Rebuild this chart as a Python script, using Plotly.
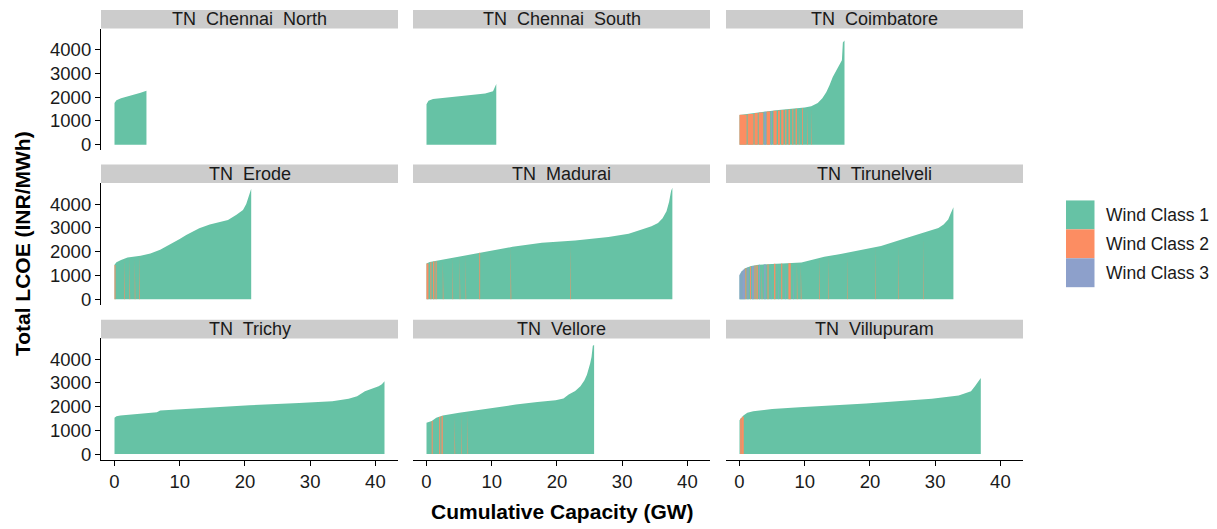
import plotly.graph_objects as go

# ---------------- data ----------------
DISTRICTS = ["TN\u00a0 Chennai\u00a0 North", "TN\u00a0 Chennai\u00a0 South", "TN\u00a0 Coimbatore",
             "TN\u00a0 Erode", "TN\u00a0 Madurai", "TN\u00a0 Tirunelveli",
             "TN\u00a0 Trichy", "TN\u00a0 Vellore", "TN\u00a0 Villupuram"]
CLASS_NAMES = ["Wind Class 1", "Wind Class 2", "Wind Class 3"]
CLASS_COLORS = ["#66C2A5", "#FC8D62", "#8DA0CB"]
Y_TICKS = [0, 1000, 2000, 3000, 4000]
X_TICKS = [0, 10, 20, 30, 40]

# supply curves: cumulative capacity (GW) vs total LCOE (INR/MWh)
CHENNAI_N_CAP = [0, 0.3, 1, 2, 3, 4, 4.9]
CHENNAI_N_LCOE = [1750, 1870, 1950, 2030, 2080, 2180, 2270]

CHENNAI_S_CAP = [0, 0.3, 1, 3, 5, 7, 9, 10.2, 10.5, 10.7]
CHENNAI_S_LCOE = [1700, 1850, 1920, 1980, 2060, 2110, 2150, 2250, 2400, 2550]

COIMBATORE_CAP = [0, 2, 4, 6, 8, 10, 11, 12, 12.7, 13.3, 13.8, 14.3, 14.8, 15.3, 15.7, 15.85, 16.1]
COIMBATORE_LCOE = [1250, 1330, 1400, 1460, 1510, 1560, 1620, 1750, 1950, 2200, 2500, 2850, 3100, 3350, 3550, 4300, 4380]

ERODE_CAP = [0, 0.3, 1, 2, 4, 5.5, 7, 8, 9, 10, 11, 11.6, 12.3, 13, 14.6, 16, 17.4, 18.7, 19.7, 20.2, 20.5, 20.8, 20.96]
ERODE_LCOE = [1450, 1550, 1650, 1750, 1830, 1920, 2080, 2220, 2380, 2530, 2700, 2790, 2900, 2980, 3140, 3230, 3330, 3550, 3750, 4000, 4250, 4500, 4640]

MADURAI_CAP = [0, 0.5, 2.8, 6, 9.6, 13.2, 17.7, 22.8, 27.9, 31, 33, 34.5, 35.5, 36.2, 36.8, 37.2, 37.5, 37.7]
MADURAI_LCOE = [1500, 1560, 1680, 1850, 2030, 2200, 2370, 2470, 2610, 2750, 2930, 3070, 3200, 3400, 3700, 4100, 4550, 4680]

TIRUNELVELI_CAP = [0, 0.3, 0.87, 1.8, 2.9, 5, 8, 9.5, 11, 13, 15.5, 18.1, 21.7, 25.7, 29.3, 30.5, 31.3, 32, 32.3, 32.6, 32.8]
TIRUNELVELI_LCOE = [1000, 1150, 1300, 1400, 1450, 1490, 1520, 1540, 1640, 1780, 1900, 2030, 2240, 2580, 2890, 2990, 3140, 3350, 3550, 3780, 3870]

TRICHY_CAP = [0, 0.3, 0.9, 3, 6.5, 7, 13.1, 20.7, 28.3, 33.4, 35.9, 37.2, 38.4, 40.5, 41, 41.4]
TRICHY_LCOE = [1530, 1600, 1630, 1680, 1770, 1840, 1950, 2060, 2160, 2230, 2330, 2440, 2650, 2860, 2950, 3070]

VELLORE_CAP = [0, 0.8, 1.5, 2.5, 5, 10.1, 13.7, 17, 19.8, 21, 21.8, 22.8, 23.6, 24.2, 24.6, 25.1, 25.3, 25.5, 25.7]
VELLORE_LCOE = [1320, 1400, 1530, 1630, 1740, 1950, 2090, 2200, 2270, 2350, 2510, 2660, 2860, 3100, 3350, 3830, 4100, 4570, 4600]

VILLUPURAM_CAP = [0, 0.3, 0.6, 1.2, 2.1, 5, 9.2, 19.4, 29.5, 33.6, 34.6, 35.5, 36.1, 36.6, 36.9, 37.0]
VILLUPURAM_LCOE = [1430, 1550, 1630, 1740, 1810, 1900, 1980, 2130, 2330, 2470, 2570, 2650, 2860, 3050, 3200, 3210]

# cells of wind class 2 / 3 inside the curves: start (GW), width (GW), LCOE, class
COIMBATORE_ST_START = [0, 1.25, 2.3, 2.95, 3.8, 4.15, 4.85, 5.2, 5.9, 6.4, 7.0, 7.5, 8.1, 8.6, 9.1, 9.6, 10.4, 11.0]
COIMBATORE_ST_WIDTH = [1.1, 0.9, 0.5, 0.7, 0.25, 0.55, 0.15, 0.5, 0.3, 0.35, 0.2, 0.25, 0.15, 0.2, 0.1, 0.12, 0.1, 0.08]
COIMBATORE_ST_LCOE = [1255, 1295, 1335, 1358, 1385, 1398, 1418, 1425, 1442, 1455, 1470, 1482, 1500, 1512, 1522, 1535, 1555, 1585]
COIMBATORE_ST_CLASS = [2, 2, 2, 2, 3, 2, 3, 2, 2, 2, 2, 2, 2, 2, 2, 2, 2, 2]

ERODE_ST_START = [0, 1.5, 2.3, 3.1, 3.8]
ERODE_ST_WIDTH = [0.15, 0.1, 0.1, 0.1, 0.1]
ERODE_ST_LCOE = [1440, 1690, 1755, 1785, 1815]
ERODE_ST_CLASS = [2, 2, 2, 2, 2]

MADURAI_ST_START = [0, 0.6, 1.0, 1.4, 2.5, 4.0, 5.1, 6.0, 8.1, 12.9, 22.0]
MADURAI_ST_WIDTH = [0.3, 0.15, 0.2, 0.15, 0.1, 0.08, 0.08, 0.08, 0.12, 0.1, 0.1]
MADURAI_ST_LCOE = [1500, 1560, 1580, 1600, 1660, 1740, 1798, 1845, 1950, 2180, 2450]
MADURAI_ST_CLASS = [2, 2, 2, 2, 2, 2, 2, 2, 2, 2, 2]

TIRUNELVELI_ST_START = [0, 0.15, 0.3, 0.5, 0.7, 0.9, 1.2, 1.6, 1.9, 2.3, 2.6, 3.0, 3.4, 3.8, 4.3, 4.8, 5.3, 5.9,
                        6.4, 7.0, 7.5, 8.2, 8.8, 9.4, 12.2, 13.6, 16.5, 20.8, 24.3, 28.2]
TIRUNELVELI_ST_WIDTH = [0.15, 0.15, 0.2, 0.2, 0.15, 0.15, 0.2, 0.15, 0.3, 0.15, 0.2, 0.15, 0.1, 0.2, 0.15, 0.1, 0.2, 0.1,
                        0.15, 0.1, 0.35, 0.1, 0.1, 0.1, 0.1, 0.08, 0.08, 0.08, 0.08, 0.08]
TIRUNELVELI_ST_LCOE = [1040, 1110, 1170, 1235, 1280, 1300, 1335, 1375, 1400, 1420, 1432, 1450, 1458, 1465, 1473, 1485, 1490, 1497,
                       1502, 1508, 1512, 1520, 1528, 1536, 1720, 1805, 1945, 2180, 2455, 2790]
TIRUNELVELI_ST_CLASS = [3, 3, 3, 3, 3, 2, 3, 2, 3, 2, 2, 3, 2, 3, 2, 3, 2, 3,
                        2, 3, 2, 3, 2, 2, 2, 2, 2, 2, 2, 2]

VELLORE_ST_START = [0.8, 1.95, 2.3, 4.3, 5.3, 6.3]
VELLORE_ST_WIDTH = [0.15, 0.15, 0.2, 0.1, 0.08, 0.08]
VELLORE_ST_LCOE = [1395, 1570, 1610, 1700, 1745, 1785]
VELLORE_ST_CLASS = [2, 2, 2, 2, 2, 2]

VILLUPURAM_ST_START = [0.1, 0.35]
VILLUPURAM_ST_WIDTH = [0.25, 0.3]
VILLUPURAM_ST_LCOE = [1500, 1580]
VILLUPURAM_ST_CLASS = [2, 2]

EMPTY = []

PANELS = [
    (CHENNAI_N_CAP, CHENNAI_N_LCOE, EMPTY, EMPTY, EMPTY, EMPTY),
    (CHENNAI_S_CAP, CHENNAI_S_LCOE, EMPTY, EMPTY, EMPTY, EMPTY),
    (COIMBATORE_CAP, COIMBATORE_LCOE, COIMBATORE_ST_START, COIMBATORE_ST_WIDTH, COIMBATORE_ST_LCOE, COIMBATORE_ST_CLASS),
    (ERODE_CAP, ERODE_LCOE, ERODE_ST_START, ERODE_ST_WIDTH, ERODE_ST_LCOE, ERODE_ST_CLASS),
    (MADURAI_CAP, MADURAI_LCOE, MADURAI_ST_START, MADURAI_ST_WIDTH, MADURAI_ST_LCOE, MADURAI_ST_CLASS),
    (TIRUNELVELI_CAP, TIRUNELVELI_LCOE, TIRUNELVELI_ST_START, TIRUNELVELI_ST_WIDTH, TIRUNELVELI_ST_LCOE, TIRUNELVELI_ST_CLASS),
    (TRICHY_CAP, TRICHY_LCOE, EMPTY, EMPTY, EMPTY, EMPTY),
    (VELLORE_CAP, VELLORE_LCOE, VELLORE_ST_START, VELLORE_ST_WIDTH, VELLORE_ST_LCOE, VELLORE_ST_CLASS),
    (VILLUPURAM_CAP, VILLUPURAM_LCOE, VILLUPURAM_ST_START, VILLUPURAM_ST_WIDTH, VILLUPURAM_ST_LCOE, VILLUPURAM_ST_CLASS),
]

# ---------------- layout geometry (page pixels) ----------------
PAGE_MARGIN = 8            # default body margin of the html page
W, H = 1217 - PAGE_MARGIN, 529 - PAGE_MARGIN
COL_X = [(101, 398), (413, 710), (726, 1023)]
ROW_Y = [(28.8, 151.6), (184.8, 307.6), (341.6, 464.0)]
STRIP_H = 18.8
X_RANGE = [-2.07, 43.47]
Y_RANGE = [-232, 4880]
FONT = "Liberation Sans, Arial, Helvetica, sans-serif"
TXT = "#1a1a1a"
TICK_SIZE = 18.5


def px(x):
    return (x - PAGE_MARGIN) / W


def py(y):
    return 1 - (y - PAGE_MARGIN) / H


fig = go.Figure()
layout = dict(width=W, height=H, margin=dict(l=0, r=0, t=0, b=0),
              paper_bgcolor="white", plot_bgcolor="white", showlegend=False,
              font=dict(family=FONT, color=TXT))
shapes, annotations = [], []

for i, (cap, lcoe, s_start, s_width, s_lcoe, s_cls) in enumerate(PANELS):
    r, c = divmod(i, 3)
    n = i + 1
    xa, ya = ("x%d" % n if n > 1 else "x"), ("y%d" % n if n > 1 else "y")
    fig.add_trace(go.Scatter(x=cap, y=lcoe, mode="lines", fill="tozeroy",
                             fillcolor=CLASS_COLORS[0], line=dict(width=0, color=CLASS_COLORS[0]),
                             xaxis=xa, yaxis=ya, hoverinfo="skip"))
    for s, w, v, k in zip(s_start, s_width, s_lcoe, s_cls):
        col = CLASS_COLORS[k - 1]
        fig.add_trace(go.Scatter(x=[s, s, s + w, s + w], y=[0, v, v, 0], mode="lines",
                                 fill="toself", fillcolor=col, line=dict(width=0, color=col),
                                 xaxis=xa, yaxis=ya, hoverinfo="text", text=CLASS_NAMES[k - 1]))

    x0, x1 = COL_X[c]
    y0, y1 = ROW_Y[r]
    xaxis = dict(domain=[px(x0), px(x1)], range=X_RANGE, anchor=ya, showgrid=False,
                 zeroline=False, fixedrange=True)
    yaxis = dict(domain=[py(y1), py(y0)], range=Y_RANGE, anchor=xa, showgrid=False,
                 zeroline=False, fixedrange=True)
    if r == 2:
        xaxis.update(showline=True, linecolor="black", linewidth=1.2, ticks="outside",
                     ticklen=5, tickwidth=1.2, tickcolor="black", tickvals=X_TICKS,
                     tickfont=dict(size=TICK_SIZE, color=TXT, family=FONT))
    else:
        xaxis.update(showticklabels=False, ticks="", showline=False)
    if c == 0:
        yaxis.update(showline=True, linecolor="black", linewidth=1.2, ticks="outside",
                     ticklen=5, tickwidth=1.2, tickcolor="black", tickvals=Y_TICKS,
                     tickfont=dict(size=TICK_SIZE, color=TXT, family=FONT))
    else:
        yaxis.update(showticklabels=False, ticks="", showline=False)
    layout["xaxis%d" % n if n > 1 else "xaxis"] = xaxis
    layout["yaxis%d" % n if n > 1 else "yaxis"] = yaxis

    # facet strip
    shapes.append(dict(type="rect", xref="paper", yref="paper", x0=px(x0), x1=px(x1),
                       y0=py(y0), y1=py(y0 - STRIP_H), fillcolor="#CCCCCC", line=dict(width=0),
                       layer="below"))
    annotations.append(dict(xref="paper", yref="paper", x=px((x0 + x1) / 2), y=py(y0 - STRIP_H / 2),
                            text=DISTRICTS[i], showarrow=False, xanchor="center", yanchor="middle",
                            font=dict(size=18, color=TXT, family=FONT)))

# legend (ggplot-style large keys)
KEY_X0, KEY_X1 = 1066, 1094.5
KEY_TOP, KEY_H = 202.3, 29.2
for k, (name, col) in enumerate(zip(CLASS_NAMES, CLASS_COLORS)):
    t = KEY_TOP + k * KEY_H
    shapes.append(dict(type="rect", xref="paper", yref="paper", x0=px(KEY_X0), x1=px(KEY_X1),
                       y0=py(t + KEY_H), y1=py(t), fillcolor=col, line=dict(width=0)))
    annotations.append(dict(xref="paper", yref="paper", x=px(1104), y=py(t + KEY_H / 2),
                            text=name, showarrow=False, xanchor="left", yanchor="middle",
                            font=dict(size=17.5, color=TXT, family=FONT)))

# axis titles
annotations.append(dict(xref="paper", yref="paper", x=px(562), y=py(516),
                        text="<b>Cumulative Capacity (GW)</b>", showarrow=False,
                        xanchor="center", yanchor="middle", font=dict(size=21, color="black", family=FONT)))
annotations.append(dict(xref="paper", yref="paper", x=px(22), y=py(246.4),
                        text="<b>Total LCOE (INR/MWh)</b>", showarrow=False, textangle=-90,
                        xanchor="center", yanchor="middle", font=dict(size=21, color="black", family=FONT)))

layout["shapes"] = shapes
layout["annotations"] = annotations
fig.update_layout(**layout)

fig.write_html("out.html")
